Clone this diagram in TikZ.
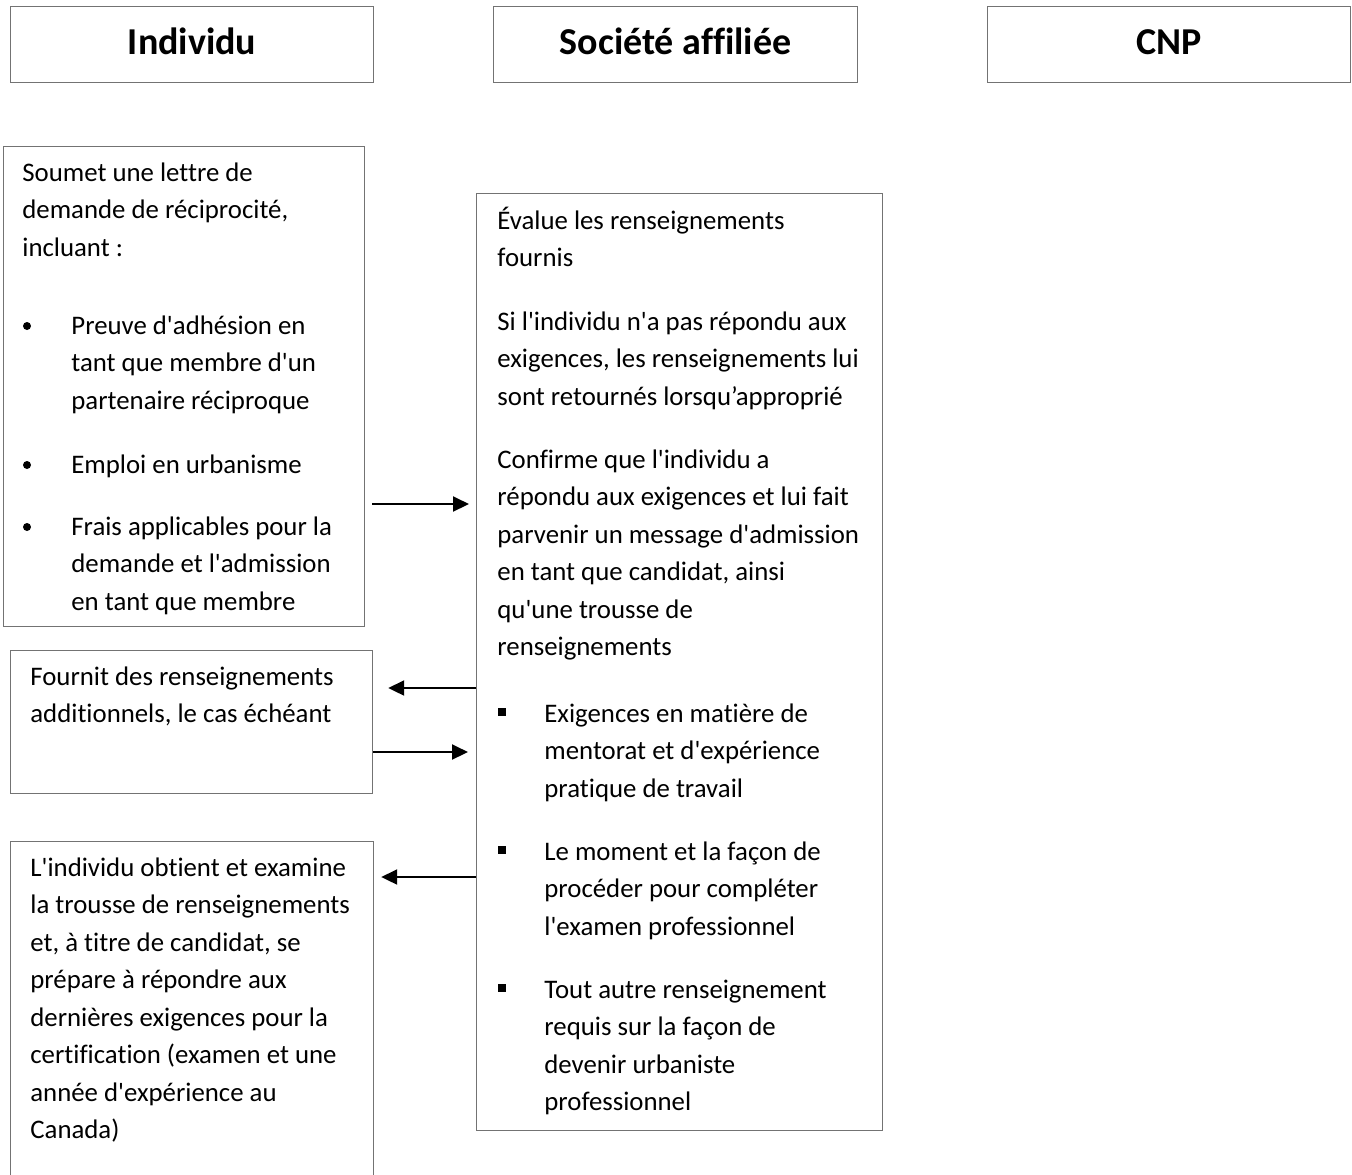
\documentclass[tikz,border=0pt]{standalone}
\usepackage{fontspec}
\newfontfamily\calibri{Carlito}[Ligatures=CommonOff]
\usetikzlibrary{arrows.meta}

\tikzset{
  cadre/.style={draw=black!55, line width=0.6pt, anchor=north west, inner sep=0pt},
  entete/.style={cadre, minimum height=38pt, text height=10pt, text depth=0pt, font=\calibri\bfseries\fontsize{19}{22}\selectfont},
  texte/.style={anchor=base west, inner sep=0pt, font=\calibri\fontsize{13.4}{18.75}\selectfont},
  puce/.style={circle, fill, inner sep=0pt, minimum size=4pt},
  carre/.style={rectangle, fill, inner sep=0pt, minimum size=3.7pt},
  fleche/.style={-{Triangle[length=8pt,width=7.5pt]}, line width=1pt},
}
\newcommand{\lignes}[1]{\parbox[t]{200pt}{\raggedright #1}}

\begin{document}
\begin{tikzpicture}[x=0.5pt, y=-0.5pt]
      \useasboundingbox (0,0) rectangle (1352,1174);
      \clip (0,0) rectangle (1352,1174);
      % en-tetes
      \node[entete, minimum width=181.5pt] (individu) at (10,6) {Individu};
      \node[entete, minimum width=182pt] (societe) at (493,6) {Société affiliée};
      \node[entete, minimum width=181.5pt] (cnp) at (987,6) {CNP};
      % cadres
      \node[cadre, minimum width=180.5pt, minimum height=240pt] (soumet) at (3,146) {};
      \node[cadre, minimum width=203pt, minimum height=468.5pt] (evalue) at (476,193) {};
      \node[cadre, minimum width=181pt, minimum height=71.5pt] (fournit) at (10,650) {};
      \node[cadre, minimum width=181.5pt, minimum height=200pt] (obtient) at (10,841) {};
      % individu
      \node[texte] (soumet-t) at (22,181) {\lignes{Soumet une lettre de\\demande de réciprocité,\\incluant :}};
      \node[puce] (p1) at (27,326) {};
      \node[texte] (preuve) at (71,334) {\lignes{Preuve d'adhésion en\\tant que membre d'un\\partenaire réciproque}};
      \node[puce] (p2) at (27,465) {};
      \node[texte] (emploi) at (71,473) {\lignes{Emploi en urbanisme}};
      \node[puce] (p3) at (27,527) {};
      \node[texte] (frais) at (71,535) {\lignes{Frais applicables pour la\\demande et l'admission\\en tant que membre}};
      \node[texte] (fournit-t) at (30,685) {\lignes{Fournit des renseignements\\additionnels, le cas échéant}};
      \node[texte] (obtient-t) at (30,876) {\lignes{L'individu obtient et examine\\la trousse de renseignements\\et, à titre de candidat, se\\prépare à répondre aux\\dernières exigences pour la\\certification (examen et une\\année d'expérience au\\Canada)}};
      % societe affiliee
      \node[texte] (evalue-t) at (497,229) {\lignes{Évalue les renseignements\\fournis}};
      \node[texte] (sinon) at (497,330) {\lignes{Si l'individu n'a pas répondu aux\\exigences, les renseignements lui\\sont retournés lorsqu’approprié}};
      \node[texte] (confirme) at (497,468) {\lignes{Confirme que l'individu a\\répondu aux exigences et lui fait\\parvenir un message d'admission\\en tant que candidat, ainsi\\qu'une trousse de\\renseignements}};
      \node[carre] (c1) at (502,712) {};
      \node[texte] (mentorat) at (544,722) {\lignes{Exigences en matière de\\mentorat et d'expérience\\pratique de travail}};
      \node[carre] (c2) at (502,850) {};
      \node[texte] (moment) at (544,860) {\lignes{Le moment et la façon de\\procéder pour compléter\\l'examen professionnel}};
      \node[carre] (c3) at (502,988) {};
      \node[texte] (autre) at (544,998) {\lignes{Tout autre renseignement\\requis sur la façon de\\devenir urbaniste\\professionnel}};
      % fleches
      \coordinate (r1) at (0,504);
      \coordinate (r2) at (0,688);
      \coordinate (r3) at (0,752);
      \coordinate (r4) at (0,877);
      \draw[fleche] ([xshift=3.5pt]soumet.east |- r1) -- ([xshift=-3.5pt]evalue.west |- r1);
      \draw[fleche] (evalue.west |- r2) -- ([xshift=7.5pt]fournit.east |- r2);
      \draw[fleche] (fournit.east |- r3) -- ([xshift=-4pt]evalue.west |- r3);
      \draw[fleche] (evalue.west |- r4) -- ([xshift=3.5pt]obtient.east |- r4);
    \end{tikzpicture}
\end{document}
